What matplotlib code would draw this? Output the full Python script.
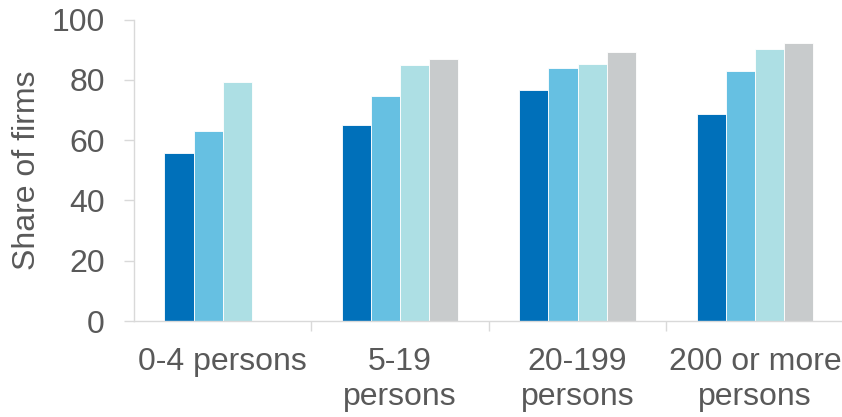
import numpy as np
import matplotlib.pyplot as plt

plt.rcParams['font.family'] = ['Liberation Sans', 'DejaVu Sans']

categories = ['0-4 persons', '5-19\npersons', '20-199\npersons', '200 or more\npersons']
series_a = [55.9, 65.2, 76.5, 68.6]
series_b = [62.9, 74.7, 84.0, 83.1]
series_c = [79.4, 84.9, 85.2, 90.2]
series_d = [np.nan, 86.9, 89.4, 92.3]
colors = ['#0070BA', '#66C0E2', '#ADDFE4', '#C8CBCC']

txt = '#595959'
fs = 23
fig = plt.figure(figsize=(8.42, 4.17), dpi=100)
ax = fig.add_axes([0.159, 0.230, 0.843, 0.723])

x = np.arange(len(categories))
w = 0.164
for i, vals in enumerate([series_a, series_b, series_c, series_d]):
	ax.bar(x + (i - 1.5) * w, vals, w, color=colors[i], edgecolor='white', linewidth=0.6)

ax.set_xlim(-0.5, len(categories) - 0.5)
ax.set_ylim(0, 100)
ax.set_yticks(range(0, 101, 20))
ax.set_xticks(x)
ax.set_xticklabels(categories, fontsize=fs, color=txt, linespacing=1.2)
ax.set_xticks(np.arange(len(categories)) + 0.5, minor=True)
ax.tick_params(axis='x', which='major', length=0, pad=19)
ax.tick_params(axis='x', which='minor', length=7, color='#d9d9d9', width=1)
ax.tick_params(axis='y', labelsize=fs, labelcolor=txt, length=7, color='#d9d9d9', width=1, pad=14)
ax.set_ylabel('Share of firms', fontsize=fs, color=txt, labelpad=7)

for s in ['top', 'right']:
	ax.spines[s].set_visible(False)
for s in ['left', 'bottom']:
	ax.spines[s].set_color('#d9d9d9')
	ax.spines[s].set_linewidth(1)

fig.savefig('out.png', dpi=100)
